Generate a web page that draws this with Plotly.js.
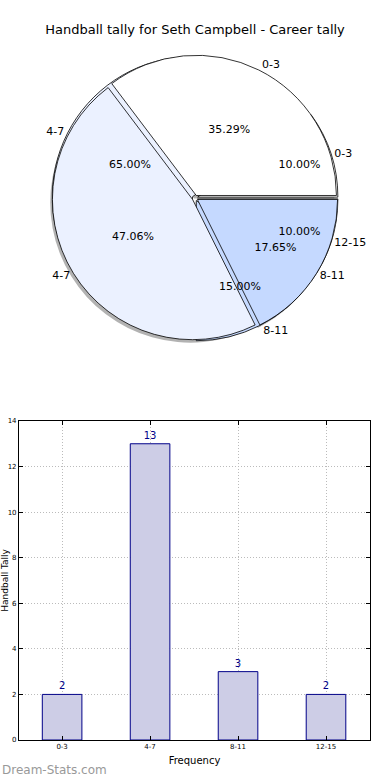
<!DOCTYPE html>
<html>
<head>
<meta charset="utf-8">
<script src="https://cdn.plot.ly/plotly-3.0.1.min.js"></script>
<style>html,body{margin:0;padding:0;background:#fff}#chart{width:390px;height:780px}</style>
</head>
<body>
<div id="chart"></div>
<script>
// Data
const pieLabelsA = ['0-3', '4-7', '8-11'];
const pieValuesA = [6, 8, 3];
const pieLabelsB = ['0-3', '4-7', '8-11', '12-15'];
const pieValuesB = [2, 13, 3, 2];
const barCategories = ['0-3', '4-7', '8-11', '12-15'];
const barValues = [2, 13, 3, 2];

const colA = ['#ffffff', '#ebf1ff', '#c5d9ff'];
const colB = ['#ffffff', '#ebf1ff', '#c5d9ff', '#ffffff'];
const pieDomain = {x: [0.1333, 0.8667], y: [0.5628, 0.9295]};
const shadowDomain = {x: [0.1277, 0.8611], y: [0.5590, 0.9257]};
const font = 'DejaVu Sans, sans-serif';

// first slice starts at 3 o'clock and runs counterclockwise (as matplotlib)
function startRot(values) {
  const s = values.reduce((a, b) => a + b, 0);
  return 90 - 360 * values[0] / s;
}

function pie(labels, values, colors, opts) {
  return Object.assign({
    type: 'pie', labels: labels, values: values, sort: false,
    direction: 'counterclockwise', rotation: startRot(values),
    domain: pieDomain, hoverinfo: 'skip',
    pull: values.map(() => 0.02),
    marker: {colors: colors, line: {color: '#000', width: 0.8}},
    textinfo: 'none', showlegend: false
  }, opts || {});
}
const clear = v => v.map(() => 'rgba(0,0,0,0)');
const pctFont = {family: font, size: 11, color: '#000'};

const traces = [
  pie(pieLabelsA, pieValuesA, null, {domain: shadowDomain, marker: {colors: pieValuesA.map(() => 'rgba(0,0,0,0.3)'), line: {width: 0}}}),
  pie(pieLabelsB, pieValuesB, colB),
  pie(pieLabelsA, pieValuesA, colA),
  pie(pieLabelsB, pieValuesB, null, {marker: {colors: clear(pieValuesB), line: {width: 0}}, texttemplate: '%{percent:.2%}', textposition: 'inside', insidetextorientation: 'horizontal', insidetextfont: pctFont}),
  pie(pieLabelsA, pieValuesA, null, {marker: {colors: clear(pieValuesA), line: {width: 0}}, texttemplate: '%{percent:.2%}', textposition: 'inside', insidetextorientation: 'horizontal', insidetextfont: pctFont}),
  pie(pieLabelsB, pieValuesB, null, {marker: {colors: clear(pieValuesB), line: {width: 0}}, texttemplate: '%{label}', textposition: 'outside', outsidetextfont: pctFont}),
  pie(pieLabelsA, pieValuesA, null, {marker: {colors: clear(pieValuesA), line: {width: 0}}, texttemplate: '%{label}', textposition: 'outside', outsidetextfont: pctFont}),
  {
    type: 'bar', x: barCategories, y: barValues, width: 0.45,
    marker: {color: '#cdcde6', line: {color: '#000088', width: 1}},
    text: barValues.map(String), textposition: 'outside', cliponaxis: false,
    textfont: {family: font, size: 10, color: '#000088'},
    hoverinfo: 'skip', showlegend: false
  }
];

const grid = {showgrid: true, gridcolor: '#bbbbbb', griddash: '1px,2px', gridwidth: 1};
const layout = {
  width: 390, height: 780,
  margin: {l: 0, r: 0, t: 0, b: 0},
  paper_bgcolor: '#fff', plot_bgcolor: '#fff',
  font: {family: font, color: '#000'},
  title: {text: 'Handball tally for Seth Campbell - Career tally', font: {family: font, size: 13, color: '#000'}, x: 0.5, xanchor: 'center', y: 0.962, yanchor: 'middle'},
  showlegend: false,
  xaxis: Object.assign({
    domain: [0.0487, 0.9487], range: [-0.49, 3.5],
    showline: true, mirror: 'ticks', linecolor: '#000', linewidth: 1,
    ticks: 'inside', ticklen: 4, tickcolor: '#000',
    tickfont: {family: font, size: 7, color: '#000'},
    title: {text: 'Frequency', font: {family: font, size: 10, color: '#000'}, standoff: 6},
    zeroline: false, fixedrange: true
  }, grid),
  yaxis: Object.assign({
    domain: [0.0513, 0.4603], range: [0, 14], dtick: 2,
    showline: true, mirror: 'ticks', linecolor: '#000', linewidth: 1,
    ticks: 'inside', ticklen: 4, tickcolor: '#000',
    tickfont: {family: font, size: 7, color: '#000'},
    title: {text: 'Handball Tally', font: {family: font, size: 9, color: '#000'}},
    zeroline: false, fixedrange: true
  }, grid),
  annotations: [
    {text: 'Dream-Stats.com', xref: 'paper', yref: 'paper', x: 0, y: 0.0128, xanchor: 'left', yanchor: 'middle', showarrow: false, font: {family: font, size: 12, color: '#999999'}}
  ]
};

Plotly.newPlot('chart', traces, layout, {staticPlot: true, displayModeBar: false});
</script>
</body>
</html>
